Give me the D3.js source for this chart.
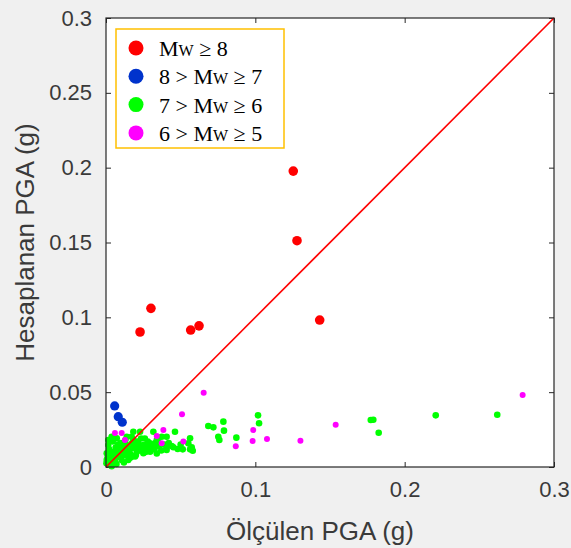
<!DOCTYPE html>
<html><head><meta charset="utf-8">
<script src="https://cdn.jsdelivr.net/npm/d3@7"></script>
<style>
html,body{margin:0;padding:0;background:#f0f0f0;}
svg{display:block;}
</style>
</head><body>
<script>
// ---- data (g) ----
const redX = [0.1254,0.1279,0.1431,0.0301,0.0228,0.0567,0.0623];
const redY = [0.1977,0.1512,0.0982,0.1060,0.0902,0.0915,0.0943];

const blueX = [0.0058,0.0082,0.0109];
const blueY = [0.0408,0.0336,0.0299];

const greenX = [0.1773,0.1790,0.1826,0.2208,0.2620,
  0.0563,0.0574,0.0581,0.0685,0.0719,0.0786,0.0790,0.0752,0.0759,0.0873,0.1018,0.1025,
  0.0038,0.0072,0.0139,0.0172,0.0228,0.0317,0.0406,0.0462,0.0551,0.0563,0.0514,0.0451,0.0406,0.0362,0.0295,0.0295,
  0.0250,0.0250,0.0216,0.0206,0.0172,0.0172,0.0139,0.0127,0.0094,0.0082,0.0049,0.0038,0.0015,0.0005,0.0005,0.0003,
  0.0027,0.0060,0.0105,0.0149,0.0038,0.0094,0.0183,0.0340,0.0373,0.0183,
  0.0020,0.0080,0.0110,0.0160,0.0190,0.0220,0.0270,0.0310,0.0340,0.0370,0.0420,0.0480,0.0130,0.0060,0.0010,0.0030,
  0.0070,0.0120,0.0160,0.0200,0.0240,0.0280,0.0330,0.0390,
  0.0045,0.0100,0.0150,0.0210,0.0260,0.0300,0.0350,0.0440,0.0500,0.0020,0.0085,0.0125,0.0175,0.0235,0.0265,0.0325,
  0.0015,0.0055,0.0110,0.0195,0.0245,0.0285,0.0355,0.0405,0.0030,0.0065,0.0145,0.0205];
const greenY = [0.0314,0.0316,0.0229,0.0345,0.0349,
  0.0192,0.0132,0.0109,0.0274,0.0265,0.0303,0.0243,0.0202,0.0180,0.0196,0.0345,0.0292,
  0.0202,0.0192,0.0202,0.0202,0.0236,0.0236,0.0202,0.0236,0.0158,0.0118,0.0118,0.0132,0.0114,0.0147,0.0158,0.0102,
  0.0147,0.0092,0.0158,0.0102,0.0125,0.0069,0.0147,0.0080,0.0125,0.0069,0.0102,0.0069,0.0147,0.0092,0.0047,0.0025,
  0.0035,0.0035,0.0047,0.0047,0.0005,0.0092,0.0180,0.0180,0.0202,0.0236,
  0.0120,0.0150,0.0110,0.0090,0.0130,0.0110,0.0120,0.0130,0.0090,0.0110,0.0160,0.0120,0.0180,0.0080,0.0060,0.0015,
  0.0020,0.0030,0.0060,0.0080,0.0140,0.0170,0.0160,0.0150,
  0.0170,0.0160,0.0100,0.0170,0.0190,0.0110,0.0190,0.0140,0.0150,0.0100,0.0110,0.0140,0.0160,0.0190,0.0100,0.0120,
  0.0180,0.0050,0.0080,0.0070,0.0120,0.0140,0.0140,0.0130,0.0070,0.0130,0.0110,0.0140];

const magX = [0.0654,0.0509,0.0060,0.0105,0.0384,0.0340,0.0373,0.0518,0.0986,0.0982,0.1078,0.0869,0.1302,0.1538,0.2790,0.0127];
const magY = [0.0496,0.0352,0.0227,0.0227,0.0247,0.0207,0.0158,0.0170,0.0247,0.0174,0.0187,0.0138,0.0176,0.0283,0.0481,0.0180];

const xTicks = [0,0.1,0.2,0.3];
const yTicks = [0,0.05,0.1,0.15,0.2,0.25,0.3];
const xTickLabels = ["0","0.1","0.2","0.3"];
const yTickLabels = ["0","0.05","0.1","0.15","0.2","0.25","0.3"];
const xTitle = "Ölçülen PGA (g)";
const yTitle = "Hesaplanan PGA (g)";
const legendLabels = [["","M","W"," ≥ 8"],["8 > ","M","W"," ≥ 7"],["7 > ","M","W"," ≥ 6"],["6 > ","M","W"," ≥ 5"]];
const colors = ["#ff0000","#0033cc","#00ff00","#ff00ff"];

// ---- layout ----
const W = 571, H = 548;
const L = 106, T = 18, R = 554, B = 467;
const x = d3.scaleLinear().domain([0,0.3]).range([L,R]);
const y = d3.scaleLinear().domain([0,0.3]).range([B,T]);

const svg = d3.select("body").append("svg").attr("width",W).attr("height",H);
svg.append("rect").attr("width",W).attr("height",H).attr("fill","#f0f0f0");
svg.append("rect").attr("x",L).attr("y",T).attr("width",R-L).attr("height",B-T).attr("fill","#fff");

const axCol = "#262626";
const txtCol = "#3a3a3a";
const tickFont = "'Liberation Sans', Arial, Helvetica, sans-serif";

// axes
const gx = svg.append("g").attr("transform",`translate(0,${B})`)
  .call(d3.axisBottom(x).tickValues(xTicks).tickFormat((d,i)=>xTickLabels[i]).tickSizeInner(-5).tickSizeOuter(0).tickPadding(14));
const gy = svg.append("g").attr("transform",`translate(${L},0)`)
  .call(d3.axisLeft(y).tickValues(yTicks).tickFormat((d,i)=>yTickLabels[i]).tickSizeInner(-5).tickSizeOuter(0).tickPadding(14));
const gxt = svg.append("g").attr("transform",`translate(0,${T})`)
  .call(d3.axisTop(x).tickValues(xTicks).tickFormat("").tickSizeInner(-5).tickSizeOuter(0));
const gyr = svg.append("g").attr("transform",`translate(${R},0)`)
  .call(d3.axisRight(y).tickValues(yTicks).tickFormat("").tickSizeInner(-5).tickSizeOuter(0));
[gx,gy,gxt,gyr].forEach(g=>{
  g.select(".domain").remove();
  g.selectAll("line").attr("stroke",axCol).attr("stroke-width",1);
  g.selectAll("text").attr("fill",txtCol).style("font-family",tickFont).style("font-size","22px");
});

// data
const line = d3.line().x(d=>x(d[0])).y(d=>y(d[1]));
const pts = [];
greenX.forEach((v,i)=>pts.push({x:v,y:greenY[i],c:colors[2],r:3.3}));
magX.forEach((v,i)=>pts.push({x:v,y:magY[i],c:colors[3],r:3}));
blueX.forEach((v,i)=>pts.push({x:v,y:blueY[i],c:colors[1],r:4.6}));
redX.forEach((v,i)=>pts.push({x:v,y:redY[i],c:colors[0],r:4.8}));

const plot = svg.append("g");
plot.selectAll("circle").data(pts).enter().append("circle")
  .attr("cx",d=>x(d.x)).attr("cy",d=>y(d.y)).attr("r",d=>d.r).attr("fill",d=>d.c);
plot.append("path").attr("d",line([[0,0],[0.3,0.3]])).attr("stroke","#ff0000").attr("stroke-width",1.7).attr("fill","none");

// box
svg.append("rect").attr("x",L).attr("y",T).attr("width",R-L).attr("height",B-T)
  .attr("fill","none").attr("stroke",axCol).attr("stroke-width",1.2);

// titles
svg.append("text").attr("x",320).attr("y",540).attr("text-anchor","middle")
  .attr("fill",txtCol).style("font-family",tickFont).style("font-size","26px").text(xTitle);
svg.append("text").attr("transform",`translate(34,${(T+B)/2}) rotate(-90)`).attr("text-anchor","middle")
  .attr("fill",txtCol).style("font-family",tickFont).style("font-size","26px").text(yTitle);

// legend
const lg = svg.append("g");
lg.append("rect").attr("x",116).attr("y",29).attr("width",168).attr("height",119)
  .attr("fill","#fff").attr("stroke","#ffc000").attr("stroke-width",1.5);
legendLabels.forEach((lab,i)=>{
  const cy = 48 + i*28.3;
  lg.append("circle").attr("cx",136).attr("cy",cy).attr("r",7.5).attr("fill",colors[i]);
  const t = lg.append("text").attr("x",159).attr("y",cy+8)
    .style("font-family","'Liberation Serif','Times New Roman',serif").style("font-size","22px").attr("fill","#000");
  t.append("tspan").text(lab[0]);
  t.append("tspan").text(lab[1]);
  t.append("tspan").style("font-size","16px").text(lab[2]);
  t.append("tspan").text(lab[3]);
});
</script>
</body></html>
